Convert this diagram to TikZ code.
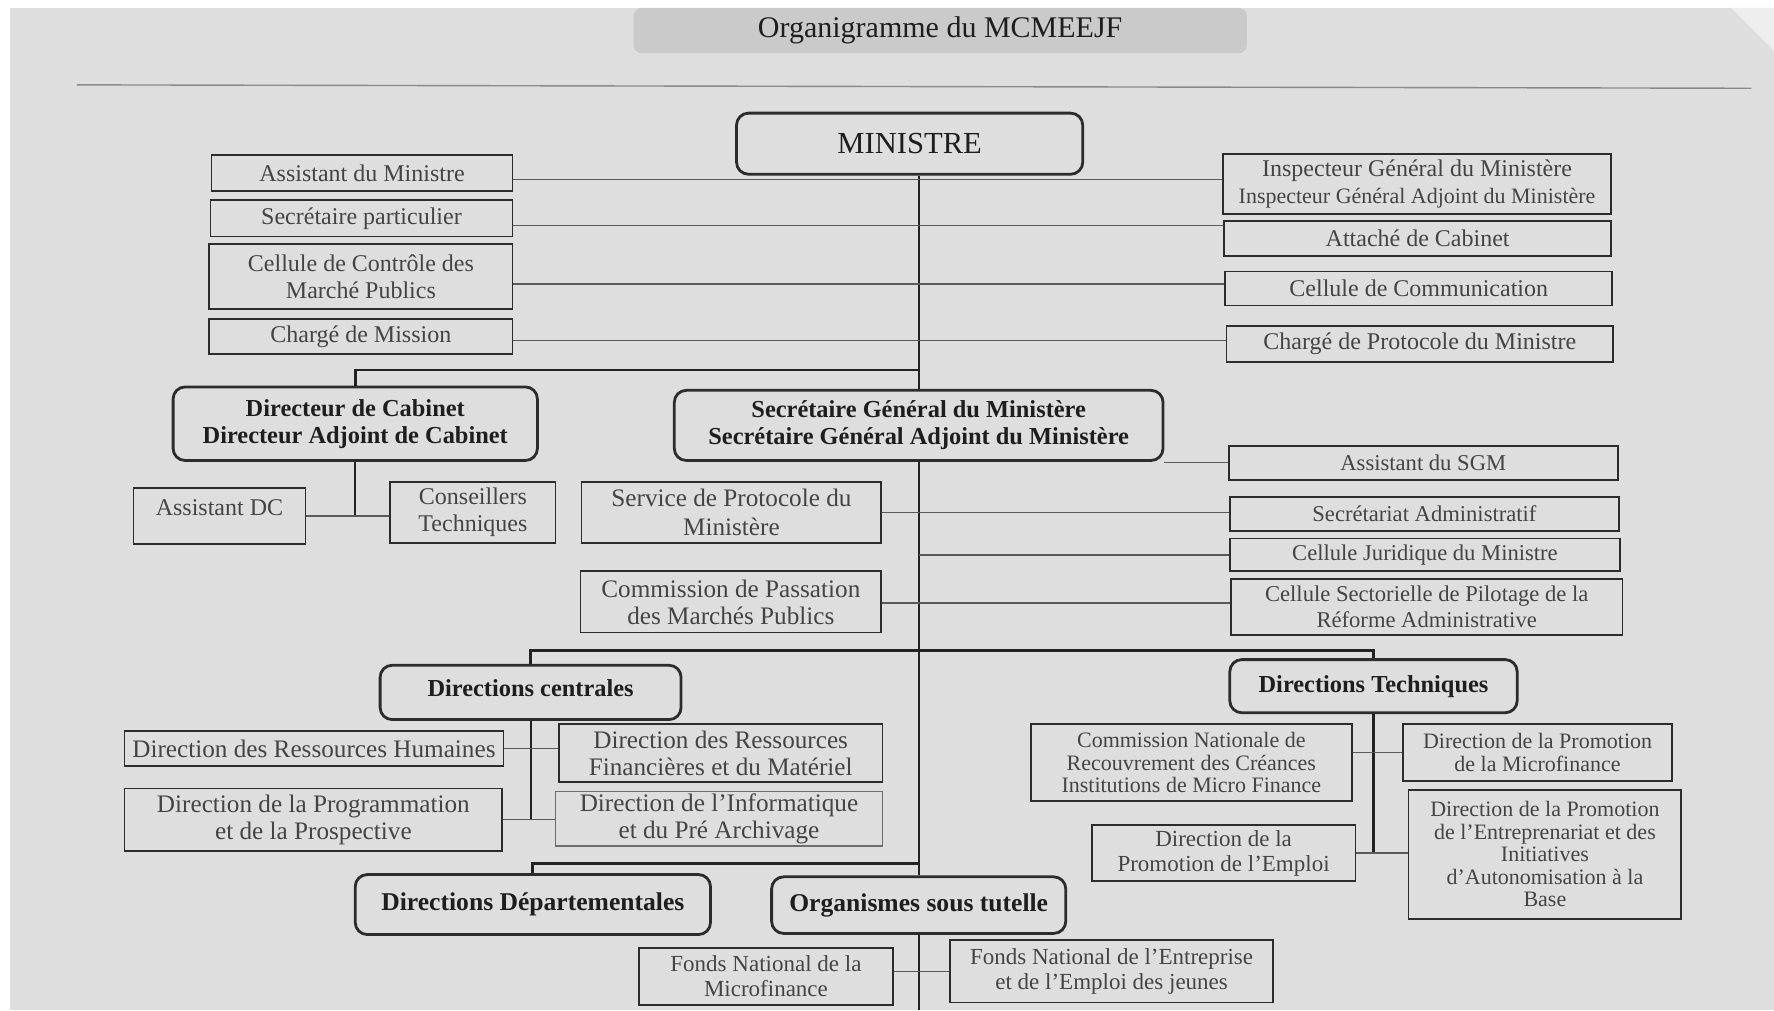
\documentclass[tikz,border=0pt]{standalone}
\usepackage{fontspec}
\setmainfont{Liberation Serif}
\definecolor{paper}{HTML}{DEDEDE}
\definecolor{titlefill}{HTML}{CACACA}
\definecolor{boxline}{HTML}{2C2C2C}
\definecolor{lightline}{HTML}{6E6E6E}
\definecolor{txt}{HTML}{444444}
\definecolor{txtb}{HTML}{1E1E1E}
\definecolor{lnc}{HTML}{5A5A5A}
\definecolor{busc}{HTML}{222222}
\definecolor{rulec}{HTML}{8A8A8A}
\tikzset{
  rbox/.style={draw=boxline, line width=0.9pt, inner sep=1pt, align=center, text=txt,
    font=\fontsize{12}{13.5}\selectfont},
  rnd/.style={draw=boxline, line width=1.4pt, rounded corners=6pt, inner sep=1pt, align=center,
    text=txtb, font=\fontsize{12.2}{13.5}\selectfont\bfseries},
  conn/.style={draw=lnc, line width=0.6pt},
  vconn/.style={draw=busc, line width=1.1pt},
  bus/.style={draw=busc, line width=1.4pt},
  fsA/.style={font=\fontsize{11.3}{13}\selectfont},
  fsB/.style={font=\fontsize{11}{11.3}\selectfont},
  fsC/.style={font=\fontsize{12.6}{13.5}\selectfont},
  fsD/.style={font=\fontsize{11.5}{12.5}\selectfont},
}
\newcommand\bx[7]{\node[#1, minimum width={(#4-#2)*0.5657pt}, minimum height={(#5-#3)*0.5657pt}] (#6) at ({(#2+#4)/2},{(#3+#5)/2}) {#7};}
\begin{document}
\begin{tikzpicture}[x=0.5657pt,y=-0.5657pt]
\useasboundingbox (0,0) rectangle (1568,893);
\fill[paper] (0,0) rectangle (1568,893);
\fill[white] (0,0) rectangle (1568,7);
\fill[white] (0,0) rectangle (9,893);
\fill[white!50!paper] (1530,7) -- (1568,7) -- (1568,45) -- cycle;
% title
\node[fill=titlefill, rounded corners=4pt, minimum width={542*0.5657pt}, minimum height={40*0.5657pt}, inner sep=0pt,
  font=\fontsize{15}{18}\selectfont, text=txtb] (title) at (831,27) {Organigramme du MCMEEJF};
\coordinate (ruleL) at (68,75);
\coordinate (ruleR) at (1548,78);
\draw[rulec, line width=0.7pt] (ruleL) -- (ruleR);
% top level
\bx{rnd, font=\fontsize{15.3}{17}\selectfont, text=txtb}{651}{100}{957}{154}{min}{MINISTRE}
\bx{rbox}{187}{137}{453}{169}{am}{Assistant du Ministre}
\bx{rbox}{186}{177}{453}{209}{sp}{Secrétaire particulier}
\bx{rbox}{185}{216}{453}{273}{ccmp}{Cellule de Contrôle des\\Marché Publics}
\bx{rbox}{185}{282}{453}{313}{cm}{Chargé de Mission}
\bx{rbox}{1081}{136}{1424}{189}{ig}{Inspecteur Général du Ministère\\{\fontsize{11}{12}\selectfont Inspecteur Général Adjoint du Ministère}}
\bx{rbox}{1082}{195}{1424}{226}{ac}{Attaché de Cabinet}
\bx{rbox}{1083}{240}{1425}{270}{cc}{Cellule de Communication}
\bx{rbox}{1084}{288}{1426}{320}{cpm}{Chargé de Protocole du Ministre}
% second level
\bx{rnd}{153}{342}{475}{407}{dc}{Directeur de Cabinet\\Directeur Adjoint de Cabinet}
\bx{rnd}{596}{345}{1028}{407}{sgm}{Secrétaire Général du Ministère\\Secrétaire Général Adjoint du Ministère}
\bx{rbox, text depth=8pt}{118}{431}{270}{481}{adc}{Assistant DC}
\bx{rbox}{345}{426}{491}{480}{ct}{Conseillers\\Techniques}
\bx{rbox, fsC}{514}{426}{779}{480}{spm}{Service de Protocole du\\[1pt]Ministère}
\bx{rbox, fsC}{513}{505}{779}{559}{cpmp}{Commission de Passation\\des Marchés Publics}
\bx{rbox, fsA}{1086}{394}{1430}{424}{asgm}{Assistant du SGM}
\bx{rbox, fsA}{1087}{439}{1431}{469}{sa}{Secrétariat Administratif}
\bx{rbox, fsA}{1087}{476}{1432}{505}{cj}{Cellule Juridique du Ministre}
\bx{rbox, fsA}{1088}{512}{1434}{561}{csp}{Cellule Sectorielle de Pilotage de la\\Réforme Administrative}
% directions
\bx{rnd, text depth=4.5pt}{336}{588}{602}{636}{dcen}{Directions centrales}
\bx{rnd}{1087}{583}{1341}{630}{dtec}{Directions Techniques}
\bx{rbox, fsC}{110}{646}{445}{677}{drh}{Direction des Ressources Humaines}
\bx{rbox, fsC}{494}{640}{780}{691}{drfm}{Direction des Ressources\\Financières et du Matériel}
\bx{rbox, fsC}{110}{697}{444}{752}{dpp}{Direction de la Programmation\\et de la Prospective}
\bx{rbox, fsC, draw=lightline}{491}{701}{780}{746}{dipa}{Direction de l'Informatique\\et du Pré Archivage}
\bx{rbox, fsB}{911}{640}{1195}{708}{cnr}{Commission Nationale de\\Recouvrement des Créances\\Institutions de Micro Finance}
\bx{rbox, fsB}{1240}{640}{1478}{690}{dpm}{Direction de la Promotion\\de la Microfinance}
\bx{rbox, fsD}{965}{729}{1198}{779}{dpe}{Direction de la\\Promotion de l'Emploi}
\bx{rbox, fsB}{1245}{698}{1486}{812}{dpeiab}{Direction de la Promotion\\de l'Entreprenariat et des\\Initiatives\\d'Autonomisation à la\\Base}
\bx{rnd, font=\fontsize{12.8}{14}\selectfont\bfseries}{314}{773}{628}{826}{ddep}{Directions Départementales}
\bx{rnd, font=\fontsize{12.8}{14}\selectfont\bfseries}{682}{775}{942}{825}{ost}{Organismes sous tutelle}
\bx{rbox, fsD}{565}{838}{789}{888}{fnm}{Fonds National de la\\Microfinance}
\bx{rbox, fsD}{840}{831}{1125}{886}{fneej}{Fonds National de l'Entreprise\\et de l'Emploi des jeunes}
% trunk
\coordinate (tEnd) at (812,893);
\draw[vconn] (min.south -| sgm.north) -- (sgm.north);
\draw[vconn] (sgm.south) -- (ost.north);
\draw[vconn] (ost.south) -- (tEnd);
% ministre staff connectors
\draw[conn] (am.east |- 0,159) -- (ig.west |- 0,159);
\draw[conn] (sp.east |- 0,199) -- (ac.west |- 0,199);
\draw[conn] (ccmp.east |- 0,251) -- (cc.west |- 0,251);
\draw[conn] (cm.east |- 0,301) -- (cpm.west |- 0,301);
% bus to cabinet
\draw[bus] (dc.north) |- (sgm.north |- 0,327);
\draw[vconn] (dc.south) -- (dc.south |- adc.east);
\draw[conn] (adc.east) -- (adc.east -| ct.west);
% SGM staff
\draw[conn] (asgm.west) -- (asgm.west -| sgm.east);
\draw[conn] (spm.east) -- (spm.east -| sa.west);
\draw[conn] (cj.west) -- (cj.west -| sgm.south);
\draw[conn] (cpmp.east |- 0,533) -- (csp.west |- 0,533);
% bus to directions
\draw[bus] (dcen.north) -- (dcen.north |- 0,575) -- (dtec.north |- 0,575) -- (dtec.north);
\draw[vconn] (dcen.south) -- (dcen.south |- dpp.east);
\draw[conn] (drh.east) -- (drh.east -| drfm.west);
\draw[conn] (dpp.east) -- (dpp.east -| dipa.west);
\draw[vconn] (dtec.south) -- (dtec.south |- dpe.east);
\draw[conn] (cnr.east |- dpm.west) -- (dpm.west);
\draw[conn] (dpe.east) -- (dpe.east -| dpeiab.west);
% bus to departementales
\draw[bus] (ddep.north) |- (sgm.south |- 0,763);
\draw[conn] (fneej.west) -- (fneej.west -| fnm.east);
\end{tikzpicture}
\end{document}
